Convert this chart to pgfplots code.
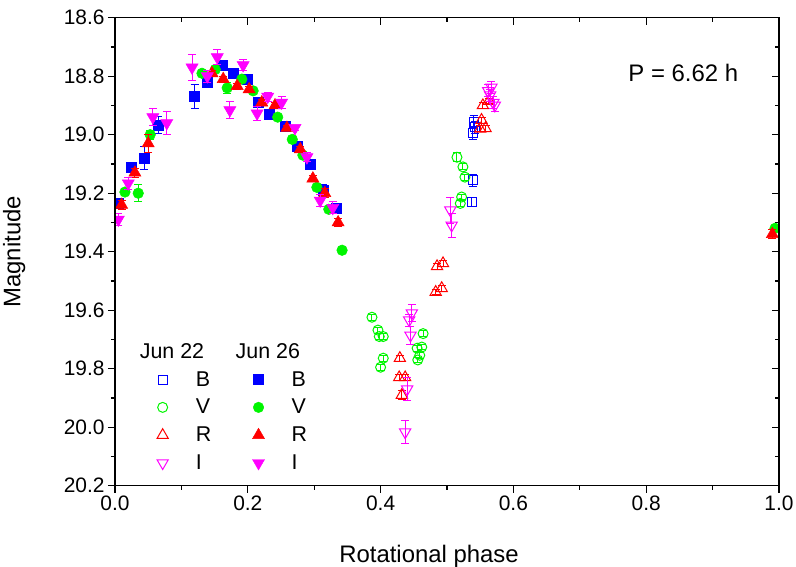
\documentclass[border=0pt]{standalone}
\usepackage{fontspec}
\setmainfont{Liberation Sans}
\usepackage{pgfplots}
\usepackage{pgfplotstable}
\pgfplotsset{compat=1.18}

% Jun 22 (open symbols)
\pgfplotstableread{
x y e
0.540 18.955 0.020
0.542 18.975 0.020
0.539 18.995 0.020
0.539 19.156 0.020
0.537 19.230 0.015
}\tabBa
\pgfplotstableread{
x y e
0.387 19.624 0.010
0.396 19.668 0.010
0.398 19.690 0.010
0.404 19.690 0.010
0.404 19.764 0.010
0.400 19.795 0.010
0.455 19.730 0.010
0.456 19.770 0.010
0.459 19.754 0.010
0.462 19.726 0.010
0.464 19.680 0.010
0.515 19.077 0.015
0.524 19.110 0.010
0.527 19.145 0.010
0.522 19.213 0.010
0.520 19.235 0.010
}\tabVa
\pgfplotstableread{
x y e
0.429 19.764 0.010
0.428 19.830 0.010
0.437 19.830 0.010
0.432 19.890 0.015
0.483 19.538 0.010
0.492 19.525 0.010
0.485 19.450 0.010
0.494 19.440 0.010
0.550 18.980 0.010
0.552 18.950 0.010
0.558 18.978 0.010
0.554 18.900 0.010
0.563 18.885 0.010
}\tabRa
\pgfplotstableread{
x y e
0.437 20.017 0.040
0.440 19.870 0.040
0.445 19.686 0.030
0.443 19.634 0.020
0.447 19.610 0.030
0.505 19.258 0.045
0.507 19.310 0.040
0.562 18.850 0.020
0.567 18.838 0.020
0.565 18.865 0.020
0.570 18.890 0.020
0.572 18.900 0.020
}\tabIa

% Jun 26 (filled symbols)
\pgfplotstableread{
x y e
0.005 19.234 0.015
0.024 19.110 0.010
0.044 19.080 0.040
0.065 18.967 0.030
0.120 18.870 0.040
0.139 18.820 0.015
0.161 18.762 0.010
0.178 18.790 0.010
0.199 18.810 0.010
0.215 18.890 0.010
0.233 18.930 0.010
0.256 18.970 0.010
0.274 19.040 0.010
0.294 19.100 0.010
0.313 19.190 0.020
0.333 19.250 0.010
}\tabBb
\pgfplotstableread{
x y e
0.015 19.196 0.010
0.035 19.200 0.030
0.053 19.000 0.015
0.131 18.790 0.010
0.151 18.777 0.010
0.169 18.840 0.020
0.191 18.810 0.010
0.208 18.850 0.010
0.245 18.940 0.010
0.267 19.016 0.010
0.283 19.070 0.010
0.304 19.180 0.010
0.322 19.255 0.010
0.342 19.395 0.010
0.994 19.320 0.010
}\tabVb
\pgfplotstableread{
x y e
0.010 19.240 0.015
0.030 19.130 0.015
0.050 19.030 0.030
0.146 18.790 0.010
0.163 18.810 0.010
0.184 18.834 0.010
0.202 18.845 0.010
0.221 18.890 0.010
0.241 18.900 0.010
0.259 18.977 0.010
0.279 19.050 0.010
0.298 19.150 0.010
0.316 19.200 0.015
0.336 19.300 0.015
0.990 19.340 0.015
}\tabRb
\pgfplotstableread{
x y e
0.005 19.290 0.020
0.020 19.166 0.020
0.057 18.940 0.030
0.078 18.960 0.040
0.116 18.770 0.045
0.139 18.800 0.020
0.154 18.735 0.025
0.173 18.916 0.030
0.193 18.762 0.020
0.214 18.927 0.025
0.230 18.870 0.015
0.251 18.890 0.020
0.271 18.977 0.010
0.289 19.077 0.015
0.309 19.225 0.020
0.328 19.250 0.020
}\tabIb

\definecolor{cB}{RGB}{0,0,255}
\definecolor{cV}{RGB}{0,245,0}
\definecolor{cR}{RGB}{255,0,0}
\definecolor{cI}{RGB}{255,0,255}

\pgfplotsset{
  common/.style={
    scale only axis, width=664bp, height=468bp,
    xmin=0, xmax=1, ymin=18.6, ymax=20.2, y dir=reverse,
    xtick={0,0.2,0.4,0.6,0.8,1.0},
    ytick={18.6,18.8,19.0,19.2,19.4,19.6,19.8,20.0,20.2},
    minor x tick num=1, minor y tick num=1,
    major tick length=7bp, minor tick length=4bp,
    axis line style={line width=1.3bp},
    every tick/.style={line width=1.3bp, black},
  },
  eb/.style={
    only marks,
    error bars/y dir=both, error bars/y explicit,
    error bars/error bar style={line width=1bp, #1},
    error bars/error mark options={rotate=90, mark size=4bp, line width=1bp, #1},
  },
  openB/.style={mark=square, mark size=4.5bp, mark options={draw=cB, fill=none, line width=1bp}},
  openV/.style={mark=o, mark size=5bp, mark options={draw=cV, fill=none, line width=1bp}},
  openR/.style={mark=triangle, mark size=6.5bp, mark options={draw=cR, fill=none, line width=1bp}},
  openI/.style={mark=triangle, mark size=6.5bp, mark options={draw=cI, fill=none, line width=1bp, rotate=180}},
  fillB/.style={mark=square*, mark size=5bp, mark options={draw=cB, fill=cB, line width=0.5bp}},
  fillV/.style={mark=*, mark size=5.3bp, mark options={draw=cV, fill=cV, line width=0.5bp}},
  fillR/.style={mark=triangle*, mark size=7bp, mark options={draw=cR, fill=cR, line width=0.5bp}},
  fillI/.style={mark=triangle*, mark size=7bp, mark options={draw=cI, fill=cI, line width=0.5bp, rotate=180}},
  lg/.style={
    legend image code/.code={\path (0bp,0bp) (62bp,0bp); \draw[only marks] plot coordinates {(31bp,0bp)};}},
}

\begin{document}
\begin{tikzpicture}
\begin{axis}[
  common,
  tick align=outside,
  xtick pos=lower, ytick pos=left,
  clip marker paths=true,
  tick label style={font=\fontsize{21}{25}\selectfont},
  /pgf/number format/assume math mode=true,
  xticklabel style={/pgf/number format/.cd, fixed, fixed zerofill, precision=1},
  yticklabel style={/pgf/number format/.cd, fixed, fixed zerofill, precision=1},
  xlabel={Rotational phase}, ylabel={Magnitude},
  label style={font=\fontsize{24}{28}\selectfont},
  xlabel style={at={(axis description cs:0.473,-0.1645)}, anchor=base},
  ylabel style={at={(axis description cs:-0.152,0.5)}, anchor=center},
  legend columns=2,
  legend cell align=left,
  legend style={draw=none, fill=none, font=\fontsize{21.5}{25}\selectfont,
    at={(axis description cs:0.02,0.313)}, anchor=north west,
    row sep=7.6bp, /tikz/every even column/.append style={column sep=14bp}},
]
\addplot[openB, eb=cB, forget plot] table[x=x, y=y, y error=e] {\tabBa};
\addplot[openV, eb=cV, forget plot] table[x=x, y=y, y error=e] {\tabVa};
\addplot[openR, eb=cR, forget plot] table[x=x, y=y, y error=e] {\tabRa};
\addplot[openI, eb=cI, forget plot] table[x=x, y=y, y error=e] {\tabIa};
\addplot[fillB, eb=cB, forget plot] table[x=x, y=y, y error=e] {\tabBb};
\addplot[fillV, eb=cV, forget plot] table[x=x, y=y, y error=e] {\tabVb};
\addplot[fillR, eb=cR, forget plot] table[x=x, y=y, y error=e] {\tabRb};
\addplot[fillI, eb=cI, forget plot] table[x=x, y=y, y error=e] {\tabIb};

\addlegendimage{empty legend}
\addlegendentry{\hspace*{-56bp}Jun 22}
\addlegendimage{empty legend}
\addlegendentry{\hspace*{-56bp}Jun 26}
\addlegendimage{lg, mark=square, mark size=4.5bp, mark options={draw=cB, fill=none, line width=1bp}}
\addlegendentry{B}
\addlegendimage{lg, mark=square*, mark size=5bp, mark options={draw=cB, fill=cB}}
\addlegendentry{B}
\addlegendimage{lg, mark=o, mark size=5bp, mark options={draw=cV, fill=none, line width=1bp}}
\addlegendentry{V}
\addlegendimage{lg, mark=*, mark size=5.3bp, mark options={draw=cV, fill=cV}}
\addlegendentry{V}
\addlegendimage{lg, mark=triangle, mark size=6.5bp, mark options={draw=cR, fill=none, line width=1bp}}
\addlegendentry{R}
\addlegendimage{lg, mark=triangle*, mark size=7bp, mark options={draw=cR, fill=cR}}
\addlegendentry{R}
\addlegendimage{lg, mark=triangle, mark size=6.5bp, mark options={draw=cI, fill=none, line width=1bp, rotate=180}}
\addlegendentry{I}
\addlegendimage{lg, mark=triangle*, mark size=7bp, mark options={draw=cI, fill=cI, rotate=180}}
\addlegendentry{I}

\node[anchor=base west, font=\fontsize{24}{28}\selectfont] at (axis description cs:0.768,0.863) {P = 6.62 h};
\end{axis}
\begin{axis}[
  common,
  tick align=inside,
  xtick pos=upper, ytick pos=right,
  xticklabels={}, yticklabels={},
]
\end{axis}
\pgfresetboundingbox
\path ([shift={(-115bp,-81.3bp)}]current axis.south west) rectangle ([shift={(17bp,17.7bp)}]current axis.north east);
\end{tikzpicture}
\end{document}
